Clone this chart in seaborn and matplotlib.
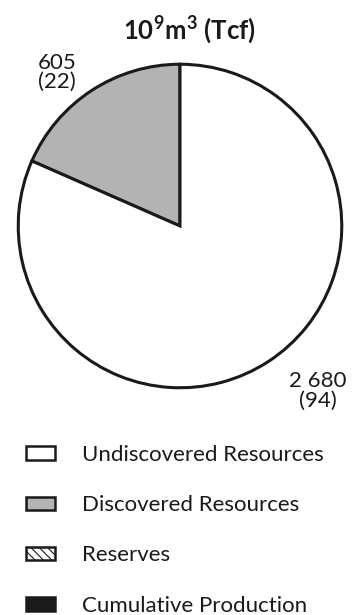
#!/usr/bin/env python3
"""Pie chart of gas resources, 10^9 m3 (Tcf), with a four-entry legend."""

import matplotlib
matplotlib.use("Agg")
import matplotlib.pyplot as plt
from matplotlib.patches import Patch
import seaborn as sns

# Slices (drawn counter-clockwise from the top)
slice_names = ["Discovered Resources", "Undiscovered Resources"]
slice_bcm = [605, 2680]
slice_tcf = [22, 94]
slice_colors = ["#b3b3b3", "#ffffff"]

# Legend entries
legend_names = ["Undiscovered Resources", "Discovered Resources",
                "Reserves", "Cumulative Production"]
legend_fill = ["#ffffff", "#b3b3b3", "#ffffff", "#1a1a1a"]
legend_hatch = [None, None, "\\\\\\\\", None]


def fmt_bcm(v):
    return f"{v:,}".replace(",", " ")


def main():
    sns.set_theme(style="white")
    plt.rcParams["font.family"] = ["Lato", "DejaVu Sans"]
    plt.rcParams["mathtext.fontset"] = "custom"
    plt.rcParams["mathtext.bf"] = "Lato:bold"
    plt.rcParams["mathtext.rm"] = "Lato"
    plt.rcParams["hatch.linewidth"] = 0.8

    W, H = 362, 615
    fig = plt.figure(figsize=(W / 100, H / 100), dpi=100)
    fig.patch.set_facecolor("white")

    cx, cy, r = 180, 226, 165
    ax = fig.add_axes([(cx - r) / W, (H - cy - r) / H, 2 * r / W, 2 * r / H])

    ax.pie(
        slice_bcm,
        colors=slice_colors,
        startangle=90,
        counterclock=True,
        radius=1,
        wedgeprops={"edgecolor": "#1a1a1a", "linewidth": 2.2},
    )
    ax.set_xlim(-1.02, 1.02)
    ax.set_ylim(-1.02, 1.02)
    ax.set_aspect("equal")
    ax.axis("off")

    # value labels
    label_pos = [(-0.76, 0.95), (0.85, -1.02)]
    for (x, y), b, t in zip(label_pos, slice_bcm, slice_tcf):
        ax.text(x, y, f"{fmt_bcm(b)}\n({t})", ha="center", va="center",
                fontsize=16, linespacing=0.95, color="#1a1a1a")

    fig.text(0.522, 0.951, r"10$^{\mathbf{9}}$m$^{\mathbf{3}}$ (Tcf)",
             ha="center", va="center", fontsize=18.5, fontweight="bold",
             color="#1a1a1a")

    handles = [
        Patch(facecolor=f, edgecolor="#1a1a1a", hatch=h, linewidth=1.8,
              label=n)
        for n, f, h in zip(legend_names, legend_fill, legend_hatch)
    ]
    fig.legend(
        handles=handles,
        loc="upper left",
        bbox_to_anchor=(0.072, 1 - 445 / H),
        frameon=False,
        fontsize=16,
        handlelength=1.3,
        handleheight=0.55,
        handletextpad=1.2,
        labelspacing=1.36,
        borderaxespad=0,
        borderpad=0,
        labelcolor="#1a1a1a",
    )

    fig.savefig("out.png", dpi=100, facecolor="white")
    plt.close(fig)


if __name__ == "__main__":
    main()
